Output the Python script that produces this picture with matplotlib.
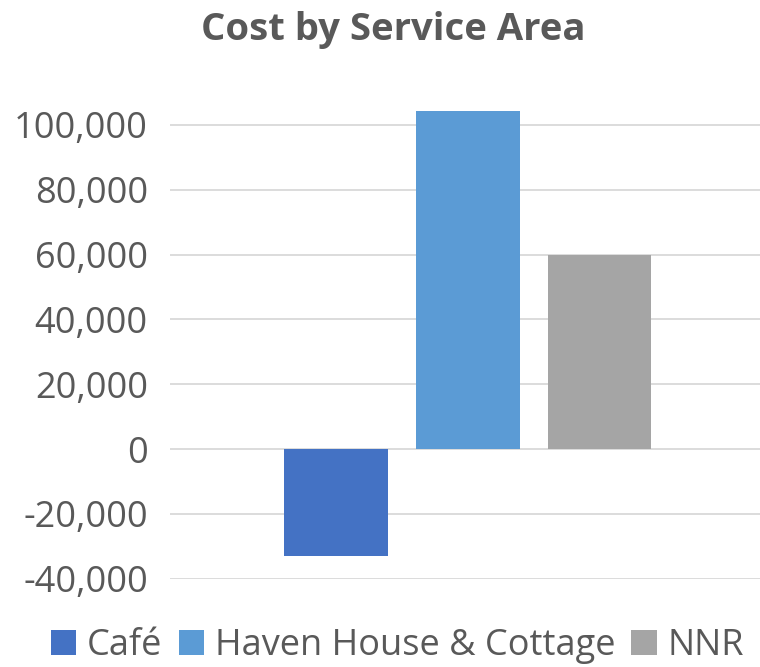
import matplotlib
matplotlib.use('Agg')
import matplotlib.pyplot as plt
from matplotlib.ticker import FuncFormatter

plt.rcParams['font.family'] = ['Open Sans', 'DejaVu Sans']

# data
series = ['Café', 'Haven House & Cottage', 'NNR']
values = [-33000, 104300, 59900]
colors = ['#4472C4', '#5B9BD5', '#A5A5A5']
yticks = [-40000, -20000, 0, 20000, 40000, 60000, 80000, 100000]

text_col = '#595959'

fig = plt.figure(figsize=(7.6, 6.67), dpi=100)
ax = fig.add_axes([170/760, 0.1325, 590/760, 0.7287])

width = 0.176
step = 0.223
for i, (name, v, c) in enumerate(zip(series, values, colors)):
    ax.bar(0.005 + (i - 1) * step, v, width=width, color=c, label=name, zorder=3)

ax.set_xlim(-0.5, 0.5)
ax.set_ylim(-40000, 110000)
ax.set_yticks(yticks)
ax.yaxis.set_major_formatter(FuncFormatter(lambda v, p: f'{int(v):,}'))
ax.grid(axis='y', color='#D9D9D9', lw=1.3, zorder=0)
ax.set_xticks([])
for s in ax.spines.values():
    s.set_visible(False)
ax.tick_params(axis='y', length=0, labelsize=26, labelcolor=text_col, pad=16)

fig.text(0.517, 0.955, 'Cost by Service Area', ha='center', va='center',
         fontsize=27.5, fontweight='bold', color=text_col)

fig.legend(loc='center', bbox_to_anchor=(0.523, 0.031), ncol=3, frameon=False,
           fontsize=26, labelcolor=text_col, handlelength=0.7, handleheight=0.7,
           handletextpad=0.3, columnspacing=0.45)

fig.savefig('out.png', dpi=100)
